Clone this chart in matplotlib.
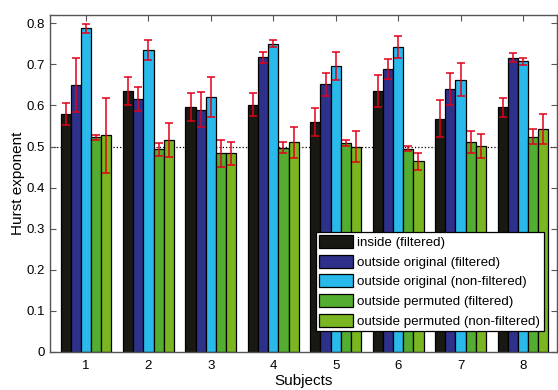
import numpy as np
import matplotlib.pyplot as plt

plt.rcParams['font.family'] = ['Liberation Sans', 'DejaVu Sans']

subjects = [1, 2, 3, 4, 5, 6, 7, 8]
series_names = ["inside (filtered)",
                "outside original (filtered)",
                "outside original (non-filtered)",
                "outside permuted (filtered)",
                "outside permuted (non-filtered)"]

inside_filt = [0.580, 0.635, 0.595, 0.602, 0.559, 0.635, 0.567, 0.596]
inside_filt_err = [0.027, 0.033, 0.034, 0.028, 0.034, 0.039, 0.045, 0.023]

orig_filt = [0.650, 0.615, 0.590, 0.717, 0.651, 0.689, 0.639, 0.716]
orig_filt_err = [0.066, 0.029, 0.043, 0.013, 0.027, 0.024, 0.039, 0.011]

orig_nonfilt = [0.788, 0.735, 0.621, 0.750, 0.695, 0.743, 0.663, 0.707]
orig_nonfilt_err = [0.011, 0.025, 0.048, 0.009, 0.034, 0.027, 0.040, 0.008]

perm_filt = [0.522, 0.493, 0.483, 0.497, 0.509, 0.495, 0.510, 0.524]
perm_filt_err = [0.007, 0.016, 0.034, 0.014, 0.007, 0.007, 0.027, 0.018]

perm_nonfilt = [0.527, 0.515, 0.483, 0.510, 0.500, 0.464, 0.502, 0.543]
perm_nonfilt_err = [0.092, 0.041, 0.029, 0.037, 0.038, 0.021, 0.029, 0.036]

values = [inside_filt, orig_filt, orig_nonfilt, perm_filt, perm_nonfilt]
errors = [inside_filt_err, orig_filt_err, orig_nonfilt_err, perm_filt_err, perm_nonfilt_err]
colors = ['#191914', '#2e3189', '#29b9eb', '#52ad30', '#79b622']

fig = plt.figure(figsize=(5.58, 3.9), dpi=100)
ax = fig.add_axes([50 / 558, 38 / 390, 507 / 558, 337 / 390])

x = np.array(subjects, dtype=float)
width = 0.163
for i, (vals, errs, col, name) in enumerate(zip(values, errors, colors, series_names)):
    pos = x + (i - 2) * width
    ax.bar(pos, vals, width, color=col, edgecolor='black', linewidth=0.9,
           label=name, zorder=2)
    ax.errorbar(pos, vals, yerr=errs, fmt='none', ecolor='#e2001a',
                elinewidth=1.1, capsize=3, capthick=1.1, zorder=3)

# reference level
ax.axhline(0.5, color='black', linestyle=':', linewidth=0.9, zorder=1)

ax.set_xlim(0.423, 8.545)
ax.set_ylim(0, 0.82)
ax.set_xticks(subjects)
ax.set_yticks(np.arange(0, 0.81, 0.1))
ax.set_yticklabels(['0', '0.1', '0.2', '0.3', '0.4', '0.5', '0.6', '0.7', '0.8'])
ax.tick_params(direction='in', top=True, right=True, length=4, labelsize=9.5,
               color='#555555')
ax.tick_params(axis='x', pad=6)
for sp in ax.spines.values():
    sp.set_color('#555555')
    sp.set_linewidth(1.0)

ax.set_xlabel('Subjects', fontsize=11, labelpad=1)
ax.set_ylabel('Hurst exponent', fontsize=11, labelpad=1)

leg = ax.legend(loc='lower right', bbox_to_anchor=(0.974, 0.062), fontsize=9.6,
                fancybox=False, framealpha=1, edgecolor='black',
                handlelength=2.55, handleheight=1.13, handletextpad=0.3,
                labelspacing=0.42, borderpad=0.25, borderaxespad=0)
leg.get_frame().set_linewidth(0.9)

fig.savefig('out.png', dpi=100)
